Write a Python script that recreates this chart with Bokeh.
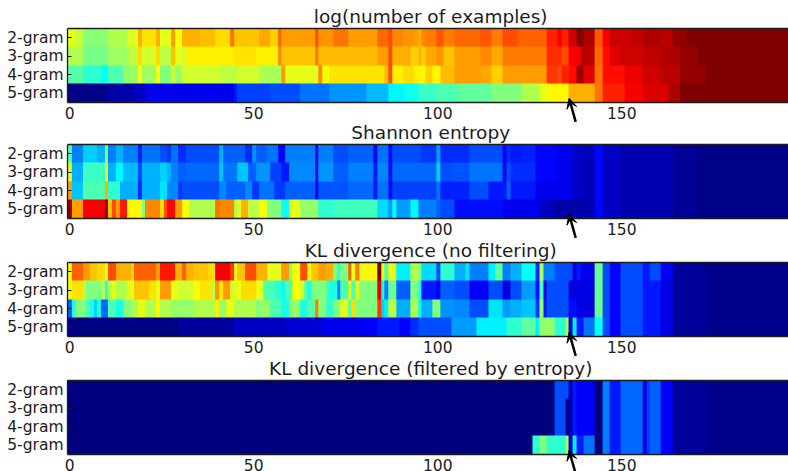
from bokeh.plotting import figure
from bokeh.layouts import column
from bokeh.models import LinearColorMapper, FixedTicker, Range1d, Arrow, VeeHead, Label
from bokeh.embed import file_html
from bokeh.resources import INLINE
import numpy as np

N_COLS = 197
row_labels = ["5-gram", "4-gram", "3-gram", "2-gram"]
titles = ["log(number of examples)", "Shannon entropy", "KL divergence (no filtering)", "KL divergence (filtered by entropy)"]
x_ticks = [0, 50, 100, 150]

# Each list holds (last column of the run, level on the 0..1 colour scale)
log_2 = [(1,.6),(3,.57),(10,.51),(15,.55),(18,.59),(19,.7),(23,.65),(24,.7),(27,.6),(28,.72),(30,.62),(35,.7),(39,.69),(43,.66),(44,.76),(51,.68),(54,.71),(56,.67),(57,.78),(66,.72),(67,.8),(71,.73),(75,.76),(83,.72),(86,.77),(87,.8),(90,.74),(93,.73),(94,.72),(95,.7),(96,.74),(99,.75),(101,.79),(104,.75),(111,.77),(114,.79),(117,.75),(121,.8),(125,.78),(129,.78),(132,.84),(133,.88),(135,.84),(137,.92),(139,.99),(142,.95),(144,.79),(146,.88),(152,.92),(155,.93),(160,.95),(163,.94),(167,.98),(196,1.0)]
log_3 = [(3,.55),(10,.49),(15,.53),(18,.56),(19,.66),(23,.58),(24,.66),(27,.56),(28,.68),(30,.6),(31,.58),(44,.64),(50,.65),(56,.64),(57,.74),(66,.68),(67,.76),(83,.69),(86,.72),(87,.8),(91,.7),(92,.71),(94,.67),(95,.7),(96,.67),(99,.71),(101,.73),(104,.68),(111,.72),(114,.74),(117,.71),(129,.75),(133,.83),(135,.8),(138,.88),(142,.94),(144,.77),(146,.86),(149,.9),(155,.92),(160,.93),(165,.95),(170,.98),(196,1.0)]
log_4 = [(3,.46),(8,.42),(10,.38),(14,.45),(18,.52),(19,.62),(23,.53),(24,.62),(27,.5),(28,.58),(30,.52),(40,.58),(45,.56),(51,.58),(57,.54),(58,.72),(67,.6),(68,.74),(70,.62),(85,.65),(86,.69),(87,.8),(90,.64),(93,.66),(94,.64),(96,.63),(98,.67),(100,.63),(104,.69),(111,.72),(114,.71),(117,.67),(129,.72),(132,.82),(133,.8),(135,.84),(137,.86),(139,.97),(142,.9),(144,.76),(150,.86),(155,.89),(160,.92),(165,.94),(172,.98),(196,1.0)]
log_5 = [(10,.01),(17,.04),(20,.07),(44,.11),(45,.15),(54,.19),(62,.2),(70,.24),(80,.27),(86,.31),(90,.37),(94,.39),(99,.43),(105,.45),(114,.47),(122,.5),(127,.55),(129,.6),(135,.63),(142,.7),(144,.76),(150,.84),(155,.88),(162,.91),(165,.95),(196,1.0)]

ent_tail = [(149,.07),(163,.05),(170,.025),(196,.01)]
ent_2 = [(0,.45),(3,.25),(7,.33),(9,.3),(10,.5),(12,.25),(14,.3),(18,.25),(19,.16),(24,.24),(26,.2),(27,.18),(29,.24),(31,.17),(40,.2),(41,.3),(47,.22),(49,.17),(50,.27),(53,.22),(56,.24),(58,.13),(66,.25),(67,.12),(71,.25),(75,.2),(82,.22),(83,.13),(86,.24),(87,.14),(95,.2),(99,.18),(100,.28),(108,.17),(117,.2),(118,.13),(119,.17),(122,.15),(126,.16),(132,.13),(136,.11),(138,.07),(142,.06),(144,.13)] + ent_tail
ent_3 = [(0,.6),(3,.3),(9,.43),(10,.6),(12,.3),(14,.37),(18,.31),(19,.2),(24,.3),(26,.33),(27,.3),(29,.25),(31,.22),(40,.23),(41,.32),(45,.24),(48,.32),(50,.22),(54,.27),(57,.19),(59,.15),(66,.26),(67,.13),(71,.27),(75,.22),(82,.25),(83,.15),(86,.26),(87,.14),(99,.23),(100,.33),(103,.2),(108,.21),(117,.24),(118,.13),(119,.2),(126,.17),(132,.13),(136,.11),(138,.07),(142,.06),(144,.13)] + ent_tail
ent_4 = [(0,.72),(3,.32),(9,.45),(10,.7),(13,.42),(18,.3),(19,.17),(24,.3),(26,.35),(29,.26),(30,.18),(40,.2),(42,.26),(47,.22),(49,.26),(51,.18),(55,.24),(58,.18),(66,.22),(67,.12),(75,.21),(82,.23),(83,.15),(86,.24),(87,.14),(99,.19),(100,.24),(108,.16),(113,.2),(118,.15),(119,.22),(126,.15),(136,.11),(138,.07),(142,.06),(144,.13)] + ent_tail
ent_5 = [(0,.98),(3,.72),(9,.88),(10,1.0),(11,.68),(12,.8),(13,.72),(15,.85),(19,.63),(20,.5),(24,.74),(25,.66),(26,.8),(28,.87),(30,.72),(32,.62),(39,.55),(40,.76),(44,.74),(45,.55),(46,.6),(48,.7),(51,.56),(53,.62),(57,.5),(59,.38),(62,.6),(67,.52),(71,.42),(83,.44),(86,.34),(87,.28),(88,.38),(92,.28),(94,.37),(99,.25),(100,.22),(104,.2),(117,.14),(127,.11),(131,.07),(138,.04),(142,.05),(144,.13)] + ent_tail

kl_tail = [(146,.2),(149,.13),(155,.2),(157,.15),(160,.2),(163,.12),(172,.03),(196,.015)]
kl_tail_b = [(146,.2),(149,.13),(155,.2),(160,.15),(163,.1),(172,.03),(196,.015)]
kl_2 = [(0,.62),(3,.78),(5,.72),(7,.68),(9,.66),(10,.58),(12,.8),(16,.7),(17,.66),(23,.78),(24,.72),(28,.85),(30,.7),(31,.78),(33,.7),(37,.68),(39,.66),(43,.88),(44,.82),(45,.62),(47,.68),(50,.8),(53,.7),(57,.6),(59,.72),(60,.5),(62,.62),(64,.8),(65,.63),(67,.68),(69,.72),(71,.7),(72,.5),(73,.42),(75,.5),(76,.78),(77,.6),(78,.75),(79,.58),(83,.63),(84,1.0),(85,.6),(86,.45),(87,.63),(88,.58),(92,.36),(94,.55),(95,.5),(99,.34),(100,.2),(104,.42),(107,.3),(108,.35),(113,.25),(115,.36),(117,.47),(119,.25),(122,.3),(126,.38),(127,.17),(128,.55),(131,.25),(136,.2),(137,.1),(138,.15),(142,.11),(144,.48)] + kl_tail
kl_3 = [(0,.6),(3,.65),(4,.55),(8,.5),(9,.55),(10,.42),(11,.55),(12,.6),(15,.55),(17,.6),(21,.68),(23,.65),(24,.6),(27,.72),(29,.6),(33,.58),(35,.62),(38,.65),(39,.56),(40,.73),(41,.65),(43,.72),(44,.58),(46,.6),(50,.66),(52,.6),(55,.45),(57,.42),(58,.38),(60,.45),(62,.62),(63,.58),(64,.45),(65,.4),(69,.5),(70,.44),(72,.4),(73,.25),(75,.45),(76,.6),(77,.45),(78,.6),(83,.5),(84,.9),(85,.4),(86,.25),(88,.48),(92,.22),(94,.5),(95,.4),(99,.15),(100,.12),(104,.22),(108,.2),(113,.12),(117,.2),(119,.1),(122,.2),(126,.28),(127,.14),(128,.45),(129,.1),(135,.2),(142,.1),(144,.48)] + kl_tail_b
kl_4 = [(0,.22),(1,.4),(4,.5),(5,.45),(6,.4),(7,.33),(8,.4),(10,.23),(12,.45),(14,.4),(16,.5),(18,.55),(20,.6),(23,.55),(24,.63),(27,.55),(33,.52),(39,.55),(40,.64),(42,.52),(44,.6),(50,.55),(51,.5),(54,.52),(57,.45),(59,.4),(62,.52),(64,.4),(66,.46),(67,.75),(69,.5),(71,.42),(73,.5),(75,.6),(76,.45),(77,.66),(83,.5),(84,.82),(85,.33),(86,.36),(88,.56),(92,.3),(94,.55),(95,.38),(98,.3),(100,.5),(104,.27),(108,.26),(113,.2),(117,.35),(119,.28),(122,.3),(126,.32),(127,.18),(128,.52),(129,.15),(135,.2),(137,.14),(142,.1),(144,.48)] + kl_tail_b
kl_5 = [(29,.005),(44,.03),(58,.07),(68,.08),(78,.11),(83,.12),(89,.15),(92,.12),(94,.17),(99,.2),(103,.2),(110,.28),(118,.36),(122,.42),(126,.47),(127,.36),(131,.52),(134,.42),(135,.55),(136,.13),(137,.36),(139,.15),(142,.24),(144,.38)] + kl_tail_b

flt_tail = [(144,.0),(146,.25),(149,.15),(155,.23),(156,.1),(157,.18),(160,.22),(163,.12),(172,.03),(196,.015)]
flt_2 = [(131,.0),(134,.2),(135,.2),(136,.06),(137,.15),(142,.12)] + flt_tail
flt_3 = [(131,.0),(134,.2),(135,.0),(136,.06),(137,.15),(142,.12)] + flt_tail
flt_4 = [(131,.0),(134,.2),(135,.0),(136,.06),(137,.15),(142,.12)] + flt_tail
flt_5 = [(125,.0),(127,.42),(127,.0),(129,.5),(134,.42),(135,.55),(136,.1),(137,.36),(139,.15),(142,.24)] + flt_tail

panels = [[log_5, log_4, log_3, log_2], [ent_5, ent_4, ent_3, ent_2], [kl_5, kl_4, kl_3, kl_2], [flt_5, flt_4, flt_3, flt_2]]

arrow_tip = (135.7, -0.27)
arrow_tail = (137.5, -1.55)
title_center = 98.1

def jet():
    out = []
    for i in range(256):
        v = i / 255
        r = np.clip(min(4*v-1.5, -4*v+4.5), 0, 1)
        g = np.clip(min(4*v-0.5, -4*v+3.5), 0, 1)
        b = np.clip(min(4*v+0.5, -4*v+2.5), 0, 1)
        out.append("#%02x%02x%02x" % (int(r*255), int(g*255), int(b*255)))
    return out

mapper = LinearColorMapper(palette=jet(), low=0, high=1)

def expand(runs):
    arr = np.zeros(N_COLS)
    start = 0
    for end, val in runs:
        arr[start:end+1] = val
        start = max(start, end + 1)
    return arr

FONT = "DejaVu Sans"
INK = "#1c1c1c"
PX_X, PX_Y = 3.68, 18.5
X0 = -0.6
X_LEFT = X0 - 67/PX_X
X_RIGHT = X0 + 721/PX_X

tops = [28, 22, 22, 22]
under = [94, 96, 96, 91]   # image plus the strip under it that holds tick labels and the arrow
figs = []
for k, (title, rows) in enumerate(zip(titles, panels)):
    img = np.array([expand(r) for r in rows])
    p = figure(width=788, height=tops[k] + under[k], output_backend="svg", toolbar_location=None,
               x_range=Range1d(X_LEFT, X_RIGHT), y_range=Range1d(3.5 - under[k]/PX_Y, 3.5 + tops[k]/PX_Y),
               min_border_left=0, min_border_right=0, min_border_top=0, min_border_bottom=0,
               outline_line_color=None)
    p.image(image=[img], x=-0.5, y=-0.5, dw=N_COLS, dh=4, color_mapper=mapper)
    p.grid.visible = False
    p.xaxis.ticker = FixedTicker(ticks=x_ticks)
    p.xaxis.fixed_location = -0.5
    p.xaxis.bounds = (X0, X_RIGHT)
    p.yaxis.ticker = FixedTicker(ticks=[0, 1, 2, 3])
    p.yaxis.fixed_location = X0
    p.yaxis.bounds = (-0.5, 3.5)
    p.yaxis.major_label_overrides = {i: s for i, s in enumerate(row_labels)}
    for ax in [p.xaxis[0], p.yaxis[0]]:
        ax.minor_tick_line_color = None
        ax.major_label_text_font = FONT
        ax.major_label_text_font_size = "15.5px"
        ax.major_label_text_color = INK
        ax.axis_line_color = INK
        ax.major_tick_line_color = INK
        ax.axis_line_width = 1.3
    p.xaxis.major_tick_in = 0
    p.xaxis.major_tick_out = 0
    p.yaxis.major_tick_in = 4
    p.yaxis.major_tick_out = 0
    p.xaxis.major_label_standoff = 4
    p.yaxis.major_label_standoff = 4
    p.segment(x0=[X0], x1=[X_RIGHT], y0=[3.5], y1=[3.5], line_color=INK, line_width=1.3)
    p.add_layout(Label(x=title_center, y=3.5, y_offset=12, text=title, text_align="center", text_baseline="alphabetic",
                       text_font=FONT, text_font_size="18.5px", text_color=INK))
    p.add_layout(Arrow(end=VeeHead(size=10, fill_color="black", line_color="black", line_width=1),
                       x_start=arrow_tail[0], y_start=arrow_tail[1], x_end=arrow_tip[0], y_end=arrow_tip[1],
                       line_color="black", line_width=2.5))
    figs.append(p)

layout = column(*figs, spacing=0)
open("out.html", "w").write(file_html(layout, INLINE))
